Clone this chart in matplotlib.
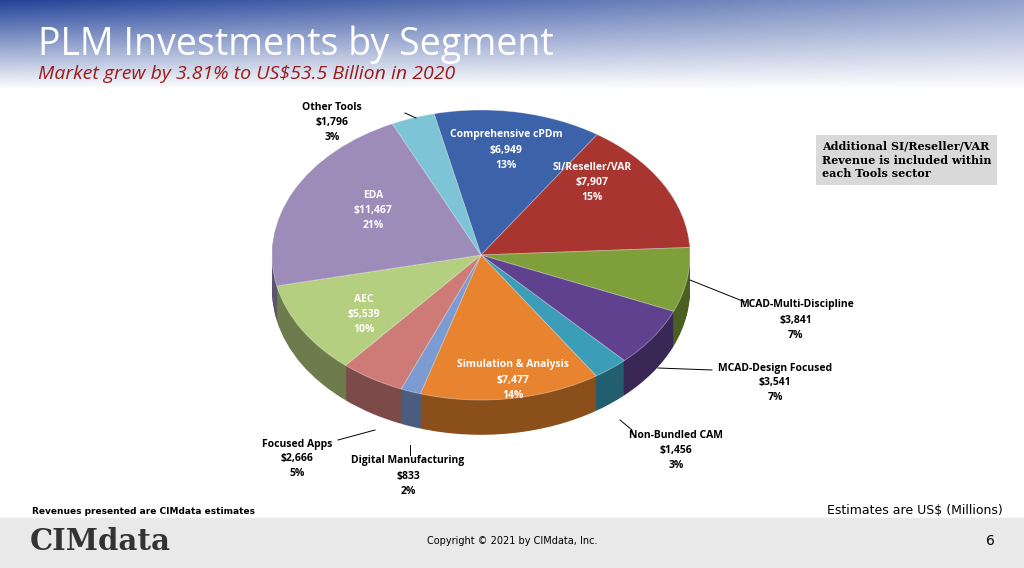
import numpy as np
import matplotlib
matplotlib.use("Agg")
import matplotlib.pyplot as plt
from matplotlib.colors import to_rgb

segments = ["Comprehensive cPDm", "SI/Reseller/VAR", "MCAD-Multi-Discipline", "MCAD-Design Focused",
            "Non-Bundled CAM", "Simulation & Analysis", "Digital Manufacturing", "Focused Apps",
            "AEC", "EDA", "Other Tools"]
values = [6949, 7907, 3841, 3541, 1456, 7477, 833, 2666, 5539, 11467, 1796]
percents = [13, 15, 7, 7, 3, 14, 2, 5, 10, 21, 3]
colors = ["#3C63AA", "#A8352F", "#7F9F3B", "#5F4190", "#3B9DB7", "#E8832F", "#7B9BD2",
          "#CE7B78", "#B5CF80", "#9D8BB9", "#7EC4D7"]

W, H = 1024, 568
fig = plt.figure(figsize=(W/100, H/100), dpi=100)

# background
bg = fig.add_axes([0, 0, 1, 1]); bg.set_xlim(0, W); bg.set_ylim(H, 0); bg.axis("off")
yy = np.linspace(0, 1, 60)[:, None]; xx = np.linspace(0, 1, 200)[None, :]
top = np.array(to_rgb("#24449A")); white = np.ones(3)
t = np.clip((1 - yy*1.0) * (1 - 0.5*xx), 0, 1)[..., None]
grad = white*(1-t) + top*t
bg.imshow(grad, extent=[0, W, 90, 0], aspect="auto", zorder=0)
bg.add_patch(plt.Rectangle((0, 518), W, 50, color="#E9E9E9", zorder=0))
bg.text(38, 55, "PLM Investments by Segment", fontsize=27, color="white", va="baseline", fontfamily="Open Sans")
bg.text(38, 79, "Market grew by 3.81% to US$53.5 Billion in 2020", fontsize=14, color="#9B1B1B",
        style="italic", va="baseline", fontfamily="Open Sans")
bg.text(32, 512, "Revenues presented are CIMdata estimates", fontsize=6.5, fontweight="bold", va="center")
bg.text(1003, 510, "Estimates are US$ (Millions)", fontsize=9, ha="right", va="center")
bg.text(30, 542, "CIMdata", fontsize=21, fontweight="bold", color="#333333", va="center", fontfamily="DejaVu Serif")
bg.text(512, 541, "Copyright © 2021 by CIMdata, Inc.", fontsize=7, ha="center", va="center")
bg.text(995, 541, "6", fontsize=10, ha="right", va="center")
bg.text(822, 160, "Additional SI/Reseller/VAR\nRevenue is included within\neach Tools sector", fontsize=8,
        fontweight="bold", fontfamily="DejaVu Serif", ha="left", va="center", linespacing=1.3,
        bbox=dict(boxstyle="square,pad=0.5", fc="#D9D9D9", ec="none"))

# pie
cx, cy, rx, ry = 481, 255, 209, 145
ax = fig.add_axes([(cx - 1.1*rx)/W, (H - (cy - 1.1*ry + 2.5*ry))/H, 2.2*rx/W, 2.5*ry/H])
dark = [tuple(np.array(to_rgb(c))*0.6) for c in colors]
depth = 0.24
for d in np.linspace(depth, 0.005, 25):
    ax.pie(values, colors=dark, startangle=103, counterclock=False, center=(0, -d),
           wedgeprops=dict(linewidth=0))
ax.pie(values, colors=colors, startangle=103, counterclock=False, center=(0, 0),
       wedgeprops=dict(linewidth=0.6, edgecolor=(1, 1, 1, 0.4)))
ax.set_aspect("auto"); ax.set_xlim(-1.1, 1.1); ax.set_ylim(-1.4, 1.1); ax.axis("off")

ov = fig.add_axes([0, 0, 1, 1]); ov.set_xlim(0, W); ov.set_ylim(H, 0); ov.axis("off")
ov.patch.set_alpha(0)

def lab(i, x, y, color="black"):
    ov.text(x, y, f"{segments[i]}\n${values[i]:,}\n{percents[i]}%", ha="center", va="center",
            fontsize=7.5, fontweight="bold", color=color, linespacing=1.5, fontfamily="Open Sans", zorder=5)

lab(0, 506, 150, "white"); lab(1, 592, 182, "white"); lab(9, 373, 210, "white")
lab(8, 364, 315, "white"); lab(5, 513, 380, "white")
lab(10, 332, 122); lab(2, 796, 320); lab(3, 775, 383); lab(4, 676, 450)
lab(7, 297, 459); lab(6, 408, 476)
lines = [([405, 416], [113, 118]), ([690, 745, 745], [280, 302, 302]),
         ([658, 712], [368, 370]), ([620, 632, 632], [420, 430, 434]),
         ([375, 338], [430, 440]), ([410, 410], [445, 455])]
for xs, ys in lines:
    ov.plot(xs, ys, color="black", lw=0.7, zorder=4)

fig.savefig("out.png", dpi=100)
